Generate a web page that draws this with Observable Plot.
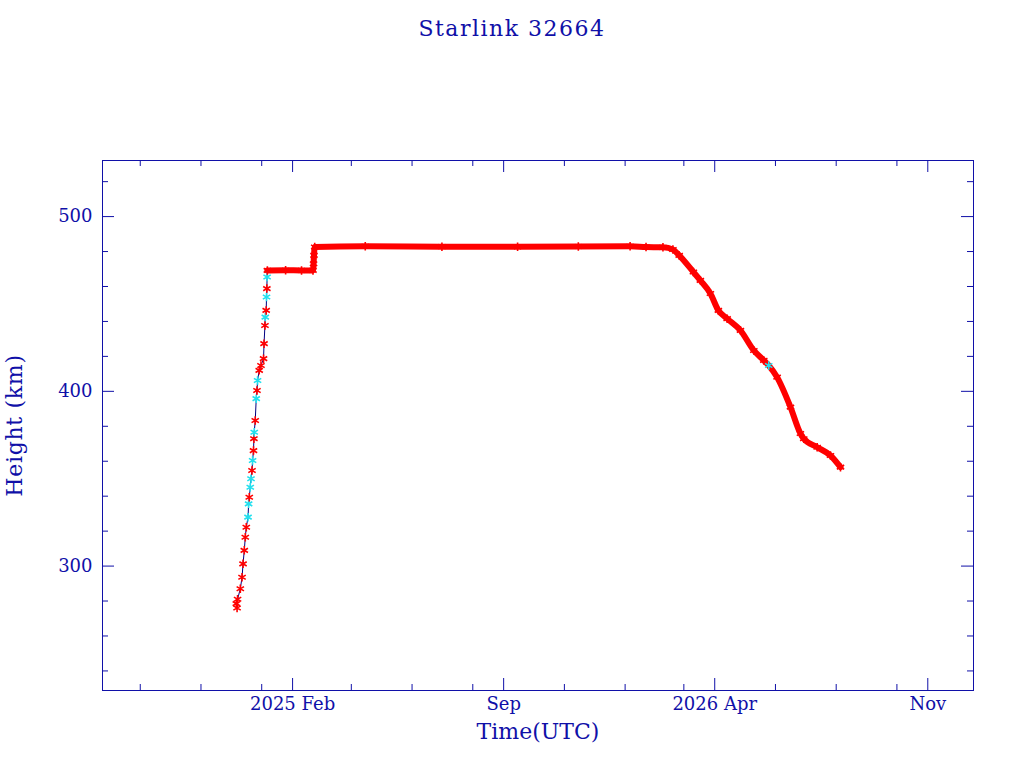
<!DOCTYPE html>
<html><head><meta charset="utf-8">
<script src="https://cdn.jsdelivr.net/npm/d3@7"></script>
<script src="https://cdn.jsdelivr.net/npm/@observablehq/plot@0.6"></script>
<style>
body{margin:0;background:#fff;}
#wrap{position:relative;width:1024px;height:768px;}
#title{position:absolute;left:0;top:16px;width:1024px;text-align:center;font-family:"DejaVu Serif";font-size:22px;letter-spacing:1.5px;color:#1010a8;}
</style></head><body><div id="wrap"><div id="title"></div></div>
<script>
const title = "Starlink 32664";
const xLabel = "Time(UTC)";
const yLabel = "Height (km)";

const dates = [
  "2024-12-06T12:00Z","2024-12-07T06:00Z","2024-12-07T18:00Z","2024-12-10T12:00Z","2024-12-12T06:00Z",
  "2024-12-13T06:00Z","2024-12-14T12:00Z","2024-12-15T12:00Z","2024-12-16T12:00Z","2024-12-18T06:00Z",
  "2024-12-18T20:00Z","2024-12-19T12:00Z","2024-12-20T12:00Z","2024-12-21T06:00Z","2024-12-22T06:00Z",
  "2024-12-22T20:00Z","2024-12-23T18:00Z","2024-12-24T04:00Z","2024-12-24T12:00Z","2024-12-25T12:00Z",
  "2024-12-26T12:00Z","2024-12-27T06:00Z","2024-12-27T20:00Z","2024-12-29T12:00Z","2024-12-31T06:00Z",
  "2025-01-02T20:00Z","2025-01-03T08:00Z","2025-01-04T06:00Z","2025-01-04T14:00Z","2025-01-05T12:00Z",
  "2025-01-05T20:00Z","2025-01-06T04:00Z","2025-01-06T10:00Z",
  "2025-01-06T16:00Z","2025-01-25T00:00Z","2025-02-10T00:00Z","2025-02-21T12:00Z","2025-02-22T02:00Z",
  "2025-02-22T12:00Z","2025-02-23T06:00Z","2025-04-15T00:00Z","2025-07-01T00:00Z","2025-09-15T00:00Z",
  "2025-11-15T00:00Z","2026-01-06T00:00Z","2026-01-22T00:00Z","2026-02-08T00:00Z","2026-02-18T00:00Z",
  "2026-02-24T08:00Z","2026-03-10T14:00Z","2026-03-17T14:00Z","2026-03-27T16:00Z","2026-04-04T16:00Z",
  "2026-04-13T12:00Z","2026-04-26T20:00Z","2026-05-10T06:00Z","2026-05-20T06:00Z","2026-05-25T06:00Z",
  "2026-06-02T16:00Z","2026-06-16T02:00Z","2026-06-26T02:00Z","2026-06-29T10:00Z","2026-07-12T22:00Z",
  "2026-07-26T06:00Z","2026-08-05T08:00Z"
];
const heights = [
  278.5, 276.0, 281.0, 287.0, 293.6,
  301.3, 309.0, 316.5, 322.2, 328.0,
  335.6, 339.4, 345.1, 350.0, 354.7,
  360.4, 366.1, 372.9, 376.6, 383.3,
  395.8, 400.5, 406.2, 412.0, 414.8,
  418.7, 427.3, 437.7, 442.5, 446.3,
  454.0, 458.8, 465.4,
  469.2, 469.3, 469.2, 469.2, 473.0,
  477.8, 482.6, 483.0, 482.8, 482.7,
  482.9, 483.0, 482.6, 482.4, 481.2,
  477.8, 468.3, 463.5, 456.0, 446.3,
  441.6, 434.9, 423.4, 417.7, 414.8,
  408.1, 391.0, 375.9, 372.9, 368.0,
  363.3, 356.6
];
const sources = [
  "r","r","r","r","r",
  "r","r","r","r","c",
  "c","r","c","c","r",
  "c","r","r","c","r",
  "c","r","c","r","r",
  "r","r","r","c","r",
  "c","r","c",
  "r","r","r","r","r",
  "r","r","r","r","r",
  "r","r","r","r","r",
  "r","r","r","r","r",
  "r","r","r","r","c",
  "r","r","r","r","r",
  "r","r"
];
const denseFrom = "2025-01-06T16:00Z";

const majorTicks = ["2025-02-01","2025-09-01","2026-04-01","2026-11-01"];
const majorLabels = ["2025 Feb","Sep","2026 Apr","Nov"];
const minorTicks = ["2024-09-01","2024-11-01","2025-01-01","2025-04-01","2025-06-01","2025-08-01",
                    "2025-11-01","2026-01-01","2026-03-01","2026-06-01","2026-08-01","2026-10-01"];
const yMajor = [300, 400, 500];
const yMinor = [240, 260, 280, 320, 340, 360, 380, 420, 440, 460, 480, 520];
const xDomain = ["2024-07-25T02:00Z", "2026-12-16T22:00Z"];
const yDomain = [228.8, 532.1];

const ink = "#1010a8";
const colorOf = {r: "#ff0000", c: "#22e0ee"};

document.getElementById("title").textContent = title;

const rows = dates.map((d, i) => ({date: new Date(d), height: heights[i], src: sources[i]}));
const dense = rows.filter(r => r.date >= new Date(denseFrom));
const maj = majorTicks.map(d => new Date(d));
const mnr = minorTicks.map(d => new Date(d));

const W = 1024, H = 768, mL = 102, mR = 51, mT = 160, mB = 78;
const fw = W - mL - mR, fh = H - mT - mB;

const chart = Plot.plot({
  width: W, height: H,
  marginLeft: mL, marginRight: mR, marginTop: mT, marginBottom: mB,
  style: {fontFamily: "DejaVu Serif", color: ink, background: "#fff"},
  x: {type: "utc", domain: xDomain.map(d => new Date(d)), axis: null},
  y: {domain: yDomain, axis: null},
  marks: [
    Plot.frame({stroke: ink, strokeWidth: 1}),
    Plot.ruleX(maj, {x: d => d, insetTop: fh - 12, stroke: ink}),
    Plot.ruleX(maj, {x: d => d, insetBottom: fh - 12, stroke: ink}),
    Plot.ruleX(mnr, {x: d => d, insetTop: fh - 6, stroke: ink}),
    Plot.ruleX(mnr, {x: d => d, insetBottom: fh - 6, stroke: ink}),
    Plot.ruleY(yMajor, {y: d => d, insetRight: fw - 12, stroke: ink}),
    Plot.ruleY(yMajor, {y: d => d, insetLeft: fw - 12, stroke: ink}),
    Plot.ruleY(yMinor, {y: d => d, insetRight: fw - 6, stroke: ink}),
    Plot.ruleY(yMinor, {y: d => d, insetLeft: fw - 6, stroke: ink}),
    Plot.text(maj, {x: d => d, text: (d, i) => majorLabels[i], frameAnchor: "bottom", lineAnchor: "middle", textAnchor: "middle", dy: 14, fontSize: 18, fill: ink}),
    Plot.text(yMajor, {y: d => d, text: d => String(d), frameAnchor: "left", lineAnchor: "middle", textAnchor: "end", dx: -10, fontSize: 18, fill: ink}),
    Plot.text([xLabel], {frameAnchor: "bottom", lineAnchor: "middle", textAnchor: "middle", dy: 41.5, fontSize: 22, fill: ink}),
    Plot.text([yLabel], {frameAnchor: "left", lineAnchor: "middle", textAnchor: "middle", dx: -87.6, rotate: -90, fontSize: 22, fill: ink}),
    Plot.line(rows, {x: "date", y: "height", stroke: "#000080", strokeWidth: 1}),
    Plot.line(dense, {x: "date", y: "height", curve: "monotone-x", stroke: "#ff0000", strokeWidth: 6, strokeLinejoin: "round", strokeLinecap: "round"}),
    Plot.dot(rows, {x: "date", y: "height", symbol: "asterisk", r: 4, stroke: d => colorOf[d.src], strokeWidth: 1.6})
  ]
});
d3.select(chart).selectAll("text").filter(function() { return this.textContent === yLabel; }).style("letter-spacing", "0.7px");
document.getElementById("wrap").appendChild(chart);
</script></body></html>
